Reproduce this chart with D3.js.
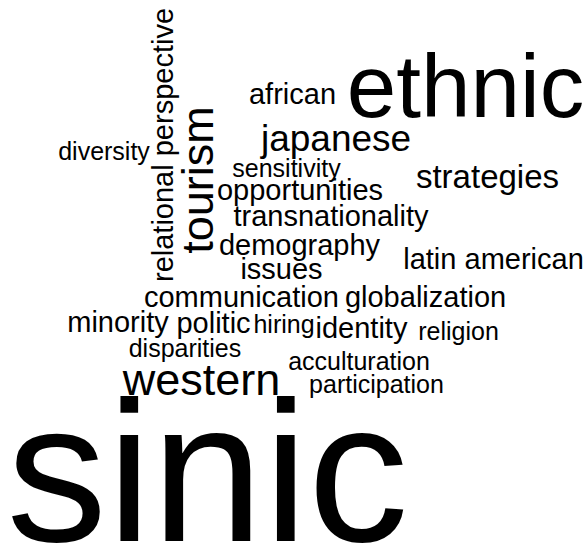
<!DOCTYPE html>
<html>
<head>
<meta charset="utf-8">
<script src="https://cdn.jsdelivr.net/npm/d3@7"></script>
<style>
  html, body { margin: 0; padding: 0; background: #ffffff; }
  svg { display: block; }
  text { font-family: "Liberation Sans", Arial, sans-serif; fill: #000000; }
</style>
</head>
<body>
<script>
// Words of the cloud
const words = ["sinic", "ethnic", "western", "tourism", "japanese", "strategies",
  "relational perspective", "african", "opportunities", "transnationality", "demography",
  "issues", "latin american", "communication", "globalization", "minority", "politic",
  "identity", "hiring", "religion", "disparities", "acculturation", "participation",
  "sensitivity", "diversity"];
// Word frequencies (drive font size)
const freqs = [50, 22, 11, 11, 9, 8, 7, 7, 7, 7, 7, 7, 7, 7, 7, 7, 7, 7, 6, 6, 6, 6, 6, 6, 6];
// Orientation of each word (0 = horizontal, 1 = vertical)
const vertical = [0, 0, 0, 1, 0, 0, 1, 0, 0, 0, 0, 0, 0, 0, 0, 0, 0, 0, 0, 0, 0, 0, 0, 0, 0];
// Layout positions in percent of the canvas (word centre x, baseline y)
const layoutX = [35.47, 79.57, 34.44, 36.41, 57.44, 83.33, 29.57, 50.0, 51.28, 56.58, 51.2,
  48.12, 84.36, 41.28, 72.74, 20.17, 36.5, 61.79, 48.55, 78.38, 31.62, 61.37, 64.36, 48.97, 17.78];
const layoutY = [98.72, 21.35, 72.08, 32.85, 27.55, 34.31, 26.46, 18.98, 36.5, 41.24, 46.53,
  50.91, 49.09, 56.02, 56.02, 60.58, 60.77, 61.68, 60.77, 62.04, 65.15, 67.52, 71.72, 32.3, 29.2];

const W = 585, H = 548;
const x = d3.scaleLinear().domain([0, 100]).range([0, W]);
const y = d3.scaleLinear().domain([0, 100]).range([0, H]);
const size = d3.scaleLinear().domain([0, 50]).range([1, 201]);

const data = words.map((w, i) => ({ text: w, freq: freqs[i], rot: vertical[i] ? -90 : 0, px: layoutX[i], py: layoutY[i] }));

const svg = d3.select("body").append("svg").attr("width", W).attr("height", H);
svg.append("rect").attr("width", W).attr("height", H).attr("fill", "#ffffff");

svg.append("g").selectAll("text").data(data).join("text")
  .attr("text-anchor", "middle")
  .attr("transform", d => `translate(${x(d.px)},${y(d.py)}) rotate(${d.rot})`)
  .style("font-size", d => size(d.freq) + "px")
  .text(d => d.text);
</script>
</body>
</html>
